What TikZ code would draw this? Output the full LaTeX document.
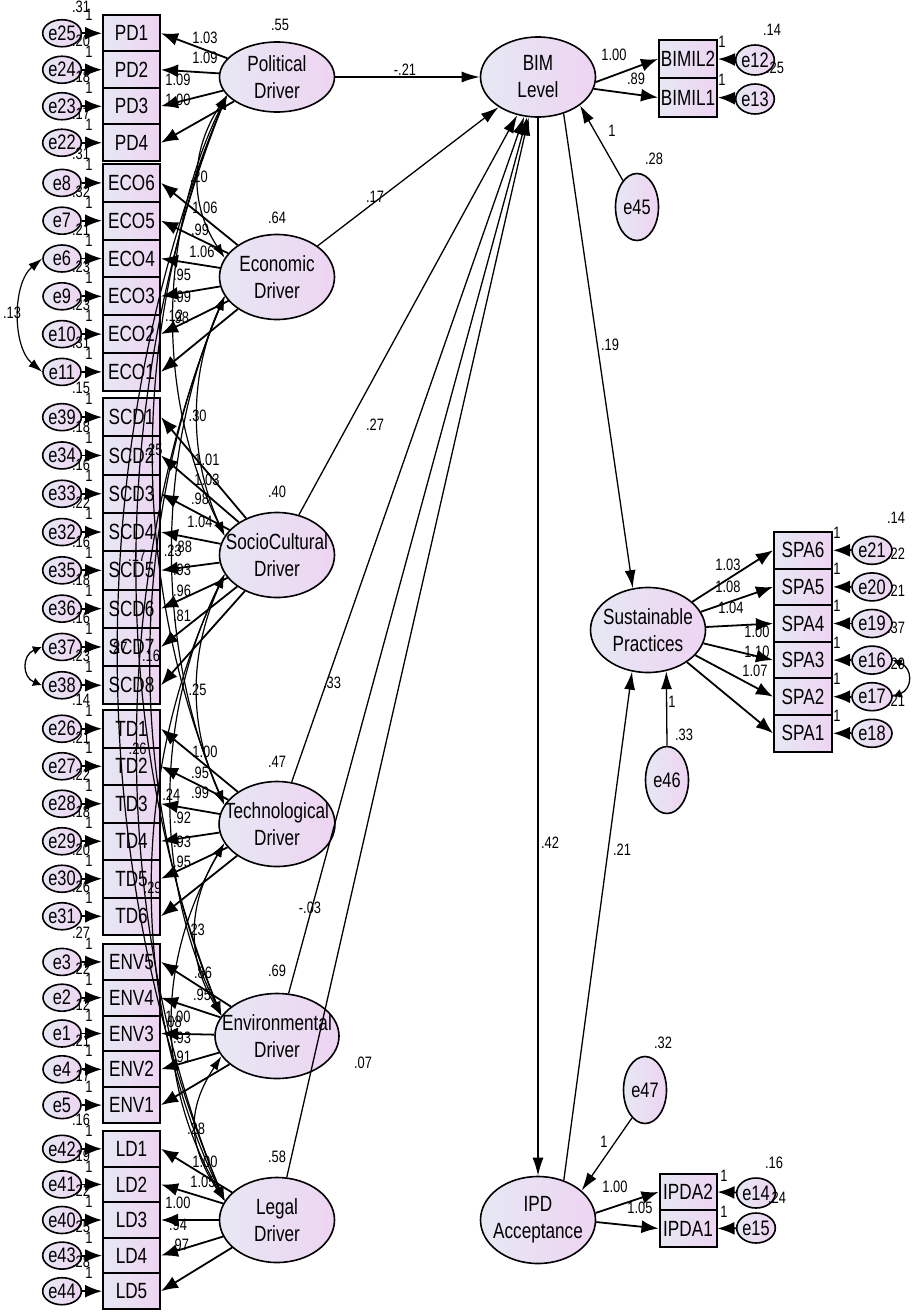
\documentclass[tikz,border=0pt]{standalone}
\usepackage{fontspec}
\setmainfont{Liberation Sans}[FakeStretch=0.78]
\usetikzlibrary{shapes.geometric,arrows.meta}
\definecolor{amosA}{RGB}{230,232,243}
\definecolor{amosB}{RGB}{238,212,242}
\begin{document}
\begin{tikzpicture}[x=1pt,y=-1pt,
  lat/.style={ellipse,draw,line width=1.6pt,left color=amosA,right color=amosB,minimum width=115pt,minimum height=85pt,inner xsep=-11pt,inner ysep=0pt,align=center,font=\fontsize{22}{27}\selectfont},
  ind/.style={rectangle,draw,line width=2pt,left color=amosA,right color=amosB,minimum width=57pt,inner sep=0pt,font=\fontsize{22}{22}\selectfont},
  err/.style={ellipse,draw,line width=1.6pt,left color=amosA,right color=amosB,minimum width=38pt,minimum height=27pt,inner sep=0pt,font=\fontsize{21}{21}\selectfont},
  dist/.style={err,minimum width=43pt,minimum height=67pt},
  lab/.style={inner sep=0pt,font=\fontsize{16.5}{16.5}\selectfont},
  load/.style={-{Latex[length=17pt,width=13pt]},line width=1.8pt},
  reg/.style={-{Latex[length=18pt,width=11pt]},line width=1.3pt},
  cov/.style={{Latex[length=14pt,width=9pt]}-{Latex[length=14pt,width=9pt]},line width=1.2pt},
  covs/.style={{Latex[length=9pt,width=9pt]}-{Latex[length=9pt,width=9pt]},line width=1.3pt}]
\useasboundingbox (0,0) rectangle (913,1316);
\node[lat,minimum height=70pt] (pol) at (277,77) {Political\\Driver};
\node[lat] (eco) at (277,277) {Economic\\Driver};
\node[lat] (scd) at (277,555) {SocioCultural\\Driver};
\node[lat] (td) at (277,824) {Technological\\Driver};
\node[lat] (env) at (277,1036) {Environmental\\Driver};
\node[lat] (ld) at (277,1220) {Legal\\Driver};
\node[lat,minimum height=80pt] (bim) at (538,77) {BIM\\Level};
\node[lat] (sp) at (648,630) {Sustainable\\Practices};
\node[lat,minimum height=87pt] (ipd) at (538,1220) {IPD\\Acceptance};
\node[lab] (vpol) at (280,25) {.55};
\node[lab] (veco) at (277,218) {.64};
\node[lab] (vscd) at (277,492) {.40};
\node[lab] (vtd) at (277,762) {.47};
\node[lab] (venv) at (277,971) {.69};
\node[lab] (vld) at (277,1157) {.58};
\foreach \lat/\top/\h/\list in {
  pol/15/36.5/{PD1/e25/.31/1.03/205/38,PD2/e24/.20/1.09/205/58,PD3/e23/.18/1.09/178/80,PD4/e22/.17/1.00/178/100},
  eco/164/37.8/{ECO6/e8/.31/1.06/205/208,ECO5/e7/.32/.99/200/230,ECO4/e6/.21/1.06/202/252,ECO3/e9/.23/.95/182/275,ECO2/e10/.23/.99/182/297,ECO1/e11/.31/.98/180/318},
  scd/398/38.3/{SCD1/e39/.15/1.01/207/460,SCD2/e34/.18/1.03/207/480,SCD3/e33/.16/.98/200/499,SCD4/e32/.22/1.04/200/522,SCD5/e35/.16/.88/183/547,SCD6/e36/.18/.93/182/570,SCD7/e37/.16/.96/182/591,SCD8/e38/.23/.81/182/616},
  td/710/37.5/{TD1/e26/.14/1.00/205/752,TD2/e27/.21/.95/200/773,TD3/e28/.22/.99/200/793,TD4/e29/.18/.92/182/818,TD5/e30/.20/.93/182/842,TD6/e31/.26/.95/182/862},
  env/944/35.8/{ENV5/e3/.27/.86/203/973,ENV4/e2/.22/.95/202/995,ENV3/e1/.12/1.00/178/1017,ENV2/e4/.21/.93/182/1038,ENV1/e5/.17/.91/182/1057},
  ld/1131/35.6/{LD1/e42/.16/1.00/205/1162,LD2/e41/.19/1.05/203/1182,LD3/e40/.22/1.00/178/1203,LD4/e43/.25/.94/178/1225,LD5/e44/.28/.97/180/1245}}{
  \foreach \ind/\err/\ev/\lv/\lx/\ly [count=\i] in \list {
    \node[ind,minimum height=\h pt] (\ind) at (131.5,\top+\h*\i-\h/2) {\ind};
    \node[err] (\err) at (62,\top+\h*\i-\h/2) {\err};
    \node[lab] (v\err) at (81,{max(\top+\h*\i-\h/2-29,7)}) {\ev};
    \node[lab] (o\err) at (89,\top+\h*\i-\h/2-18) {1};
    \draw[load] (\err) -- (\ind.west);
    \draw[load] (\lat) -- (\ind.east);
    \node[lab] (l\ind) at (\lx,\ly) {\lv};
  }
}
\foreach \a/\b/\d/\k/\v in {pol/eco/36/55/.20,eco/scd/36/80/.30,scd/td/36/80/.25,td/env/36/60/.23,env/ld/36/55/.28,
  pol/scd/69/140/.12,eco/td/69/160/.23,scd/env/69/140/.24,td/ld/69/120/.08,
  pol/td/96/230/.25,eco/env/96/230/.16,scd/ld/96/200/.29,
  pol/env/116/290/.17,eco/ld/116/280/.26,pol/ld/143/340/.27}
  \draw[cov] (\a.200) .. controls +(-\d,\k) and +(-\d,-\k) .. node[lab,pos=.5] (c\a\b) {\v} (\b.160);
\draw[cov] (e6.west) .. controls +(-30,25) and +(-30,-25) .. (e11.west);
\node[lab] (ce6) at (12,313) {.13};
\draw[covs] (e37.west) .. controls +(-20,8) and +(-20,-8) .. (e38.west);
\node[ind,minimum height=38.5pt,minimum width=58pt] (BIMIL2) at (688,59) {BIMIL2};
\node[ind,minimum height=38.5pt,minimum width=58pt] (BIMIL1) at (688,97.5) {BIMIL1};
\node[err,minimum height=30pt] (e12) at (755,60) {e12};
\node[err,minimum height=30pt] (e13) at (755,99) {e13};
\draw[load] (bim.-5) -- (BIMIL2.west);
\draw[load] (bim.-12) -- (BIMIL1.west);
\draw[load] (e12) -- (BIMIL2.east);
\draw[load] (e13) -- (BIMIL1.east);
\node[lab] (lb2) at (614,55) {1.00};
\node[lab] (lb1) at (636,79) {.89};
\node[lab] (oe12) at (722,42) {1};
\node[lab] (oe13) at (722,80) {1};
\node[lab] (ve12) at (772,30) {.14};
\node[lab] (ve13) at (775,68) {.25};
\node[ind,minimum height=36.5pt] (IPDA2) at (688,1192) {IPDA2};
\node[ind,minimum height=36.5pt] (IPDA1) at (688,1228.5) {IPDA1};
\node[err,minimum height=30pt] (e14) at (756,1193) {e14};
\node[err,minimum height=30pt] (e15) at (756,1228) {e15};
\draw[load] (ipd.7) -- (IPDA2.west);
\draw[load] (ipd.-2) -- (IPDA1.west);
\draw[load] (e14) -- (IPDA2.east);
\draw[load] (e15) -- (IPDA1.east);
\node[lab] (li2) at (615,1187) {1.00};
\node[lab] (li1) at (640,1208) {1.05};
\node[lab] (oe14) at (724,1176) {1};
\node[lab] (oe15) at (724,1212) {1};
\node[lab] (ve14) at (774,1163) {.16};
\node[lab] (ve15) at (777,1198) {.24};
\foreach \ind/\err/\ev/\lv/\lx/\ly [count=\i] in {SPA6/e21/.14/1.03/728/565,SPA5/e20/.22/1.08/728/587,SPA4/e19/.21/1.04/731/608,SPA3/e16/.37/1.00/757/632,SPA2/e17/.29/1.10/757/652,SPA1/e18/.21/1.07/755/671}{
  \node[ind,minimum height=36.6pt,minimum width=58pt] (\ind) at (803,532+36.6*\i-18.3) {\ind};
  \node[err,minimum width=40pt,minimum height=28pt] (\err) at (872,532+36.6*\i-18.3) {\err};
  \draw[load] (\err) -- (\ind.east);
  \draw[load] (sp) -- (\ind.west);
  \node[lab] (o\err) at (837,532+36.6*\i-36) {1};
  \node[lab] (l\ind) at (\lx,\ly) {\lv};
}
\foreach \err/\ev [count=\i] in {e21/.14,e20/.22,e19/.21,e16/.37,e17/.29,e18/.21}
  \node[lab] (v\err) at (896,532+36.6*\i-51) {\ev};
\draw[covs] (e16.east) .. controls +(20,8) and +(20,-8) .. (e17.east);
\node[dist] (e45) at (637,207) {e45};
\node[dist] (e46) at (667,780) {e46};
\node[dist] (e47) at (645,1090) {e47};
\node[lab] (ve45) at (654,159) {.28};
\node[lab] (oe45) at (612,131) {1};
\node[lab] (ve46) at (684,735) {.33};
\node[lab] (oe46) at (672,702) {1};
\node[lab] (ve47) at (663,1043) {.32};
\node[lab] (oe47) at (604,1142) {1};
\draw[reg] (e45.118) -- (bim.326);
\draw[reg] (e46.north) -- (sp.294);
\draw[reg] (e47.245) -- (ipd.34);
\draw[reg] (pol) -- (bim);
\draw[reg] (eco) -- (bim);
\draw[reg] (scd) -- (bim);
\draw[reg] (td) -- (bim);
\draw[reg] (env) -- (bim);
\draw[reg] (ld) -- (bim);
\draw[reg] (bim) -- (ipd);
\draw[reg] (bim.305) -- (sp.110);
\draw[reg] (ipd.57) -- (sp.249);
\node[lab] (ppol) at (405,70) {-.21};
\node[lab] (peco) at (375,197) {.17};
\node[lab] (pscd) at (375,425) {.27};
\node[lab] (ptd) at (332,683) {.33};
\node[lab] (penv) at (310,908) {-.03};
\node[lab] (pld) at (363,1063) {.07};
\node[lab] (pbsp) at (610,345) {.19};
\node[lab] (pbipd) at (550,843) {.42};
\node[lab] (pisp) at (622,850) {.21};
\end{tikzpicture}
\end{document}
